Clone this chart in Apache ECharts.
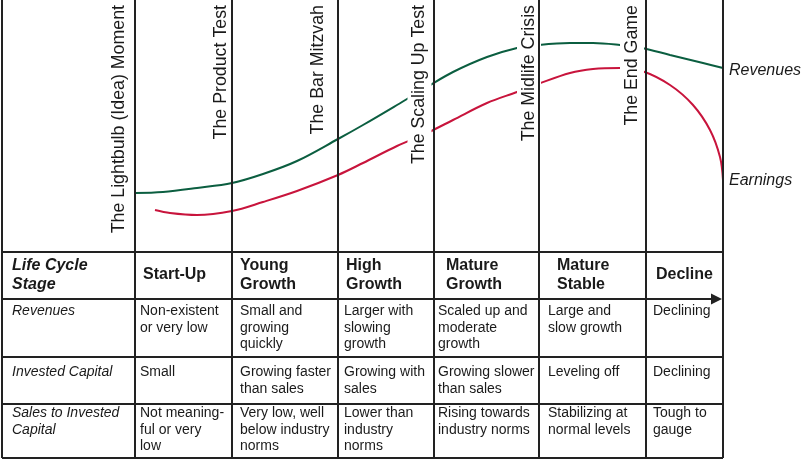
<!DOCTYPE html>
<html>
<head>
<meta charset="utf-8">
<title>Corporate Life Cycle</title>
<style>
  html, body { margin: 0; padding: 0; background: #fff; }
  #chart { width: 803px; height: 459px; }
</style>
<script src="https://cdn.jsdelivr.net/npm/echarts@6/dist/echarts.min.js"></script>
</head>
<body>
<div id="chart"></div>
<script>
const revenueX = [135, 163, 197, 232, 263, 297, 338, 363, 397, 427, 453, 487, 517, 538, 570, 593, 620, 642, 670, 703, 723];
const revenueY = [193, 192, 188, 183, 174, 161, 139, 125, 105, 87, 72, 57, 48, 45, 43, 43, 45, 48, 55, 63, 68];
const earningsX = [155, 170, 197, 232, 263, 297, 338, 363, 397, 427, 453, 487, 517, 538, 570, 593, 620, 642, 670, 693, 710, 720, 723];
const earningsY = [210, 213, 215, 211, 202, 191, 175, 163, 146, 133, 120, 103, 92, 84, 73, 69, 68, 71, 85, 105, 130, 157, 180];

const milestones = ['The Lightbulb (Idea) Moment', 'The Product Test', 'The Bar Mitzvah',
  'The Scaling Up Test', 'The Midlife Crisis', 'The End Game'];
const headerLabel = 'Life Cycle\nStage';
const stages = ['Start-Up', 'Young\nGrowth', 'High\nGrowth', 'Mature\nGrowth', 'Mature\nStable', 'Decline'];
const rowLabels = ['Revenues', 'Invested Capital', 'Sales to Invested\nCapital'];
const revenueText = ['Non-existent\nor very low', 'Small and\ngrowing\nquickly', 'Larger with\nslowing\ngrowth',
  'Scaled up and\nmoderate\ngrowth', 'Large and\nslow growth', 'Declining'];
const capitalText = ['Small', 'Growing faster\nthan sales', 'Growing with\nsales',
  'Growing slower\nthan sales', 'Leveling off', 'Declining'];
const ratioText = ['Not meaning-\nful or very\nlow', 'Very low, well\nbelow industry\nnorms', 'Lower than\nindustry\nnorms',
  'Rising towards\nindustry norms', 'Stabilizing at\nnormal levels', 'Tough to\ngauge'];

// layout (sheet units = pixels of the original)
const stageEdges = [135, 232, 338, 434, 539, 646, 723];
const tableLeft = 2;
const rowEdges = [252, 299, 357, 404, 458];
const milestoneX = [119, 221.5, 318.5, 419.5, 529, 632];
const headX = [143, 240, 346, 446, 557, 656];
const bodyX = [140, 240, 344, 438, 548, 653];
const labelX = 12;
const headY = 275;
const bodyY = [311, 372, 413];
const bodyLine = 16.7;

const FONT = '"Liberation Sans", Arial, Helvetica, sans-serif';
const INK = '#1a1a1a';

const zip = (xs, ys) => xs.map((x, i) => [x, ys[i]]);

// table cells
const cells = [];
cells.push({ x: labelX, y: headY, text: headerLabel, font: 'italic bold 16px ' + FONT, lh: 19, va: 'middle' });
stages.forEach((s, i) => cells.push({ x: headX[i], y: headY, text: s, font: 'bold 16px ' + FONT, lh: 19, va: 'middle' }));
const bodyRows = [revenueText, capitalText, ratioText];
rowLabels.forEach((r, j) => {
  cells.push({ x: labelX, y: bodyY[j] - bodyLine / 2, text: r, font: 'italic 14px ' + FONT, lh: bodyLine, va: 'top' });
  bodyRows[j].forEach((t, i) => cells.push({ x: bodyX[i], y: bodyY[j] - bodyLine / 2, text: t, font: '14px ' + FONT, lh: bodyLine, va: 'top' }));
});

// rules
const rules = [];
rules.push({ coords: [[tableLeft, 0], [tableLeft, rowEdges[4]]] });
stageEdges.forEach(e => rules.push({ coords: [[e, 0], [e, rowEdges[4]]] }));
[rowEdges[0], rowEdges[2], rowEdges[3], rowEdges[4]].forEach(r =>
  rules.push({ coords: [[tableLeft, r], [stageEdges[6], r]] }));

const chart = echarts.init(document.getElementById('chart'));
chart.setOption({
  animation: false,
  backgroundColor: '#fff',
  grid: { left: 0, right: 0, top: 0, bottom: 0 },
  xAxis: { type: 'value', min: 0, max: 803, show: false },
  yAxis: { type: 'value', min: 0, max: 459, inverse: true, show: false },
  series: [
    {
      name: 'Revenues',
      type: 'line',
      data: zip(revenueX, revenueY),
      smooth: 0.35,
      showSymbol: false,
      lineStyle: { color: '#0b5e40', width: 2 },
      z: 2,
      endLabel: { show: true, formatter: '{a}', fontFamily: FONT, fontStyle: 'italic', fontSize: 16, color: INK, distance: 6, offset: [0, 3] }
    },
    {
      name: 'Earnings',
      type: 'line',
      data: zip(earningsX, earningsY),
      smooth: 0.35,
      showSymbol: false,
      lineStyle: { color: '#c8143c', width: 2 },
      z: 2,
      endLabel: { show: true, formatter: '{a}', fontFamily: FONT, fontStyle: 'italic', fontSize: 16, color: INK, distance: 6, offset: [0, 1] }
    },
    {
      name: 'milestones',
      type: 'custom',
      z: 3,
      silent: true,
      data: milestoneX.map(x => [x, 3]),
      renderItem: (params, api) => {
        const p = api.coord([api.value(0), api.value(1)]);
        return {
          type: 'text', x: p[0], y: p[1], rotation: Math.PI / 2,
          style: {
            text: milestones[params.dataIndex], font: '17.8px ' + FONT, fill: INK,
            align: 'right', verticalAlign: 'middle', backgroundColor: '#fff', padding: [3, 2]
          }
        };
      }
    },
    {
      name: 'rules',
      type: 'lines',
      coordinateSystem: 'cartesian2d',
      z: 4,
      silent: true,
      data: rules,
      lineStyle: { color: '#222', width: 2, opacity: 1 }
    },
    {
      name: 'timeline',
      type: 'lines',
      coordinateSystem: 'cartesian2d',
      z: 4,
      silent: true,
      symbol: ['none', 'triangle'],
      symbolSize: 11,
      data: [{ coords: [[tableLeft, rowEdges[1]], [stageEdges[6] - 6.5, rowEdges[1]]] }],
      lineStyle: { color: '#222', width: 2, opacity: 1 }
    },
    {
      name: 'table',
      type: 'custom',
      z: 5,
      silent: true,
      data: cells.map(c => [c.x, c.y]),
      renderItem: (params, api) => {
        const c = cells[params.dataIndex];
        const p = api.coord([api.value(0), api.value(1)]);
        return {
          type: 'text', x: p[0], y: p[1],
          style: { text: c.text, font: c.font, fill: INK, align: 'left', verticalAlign: c.va, lineHeight: c.lh }
        };
      }
    }
  ]
});
</script>
</body>
</html>
